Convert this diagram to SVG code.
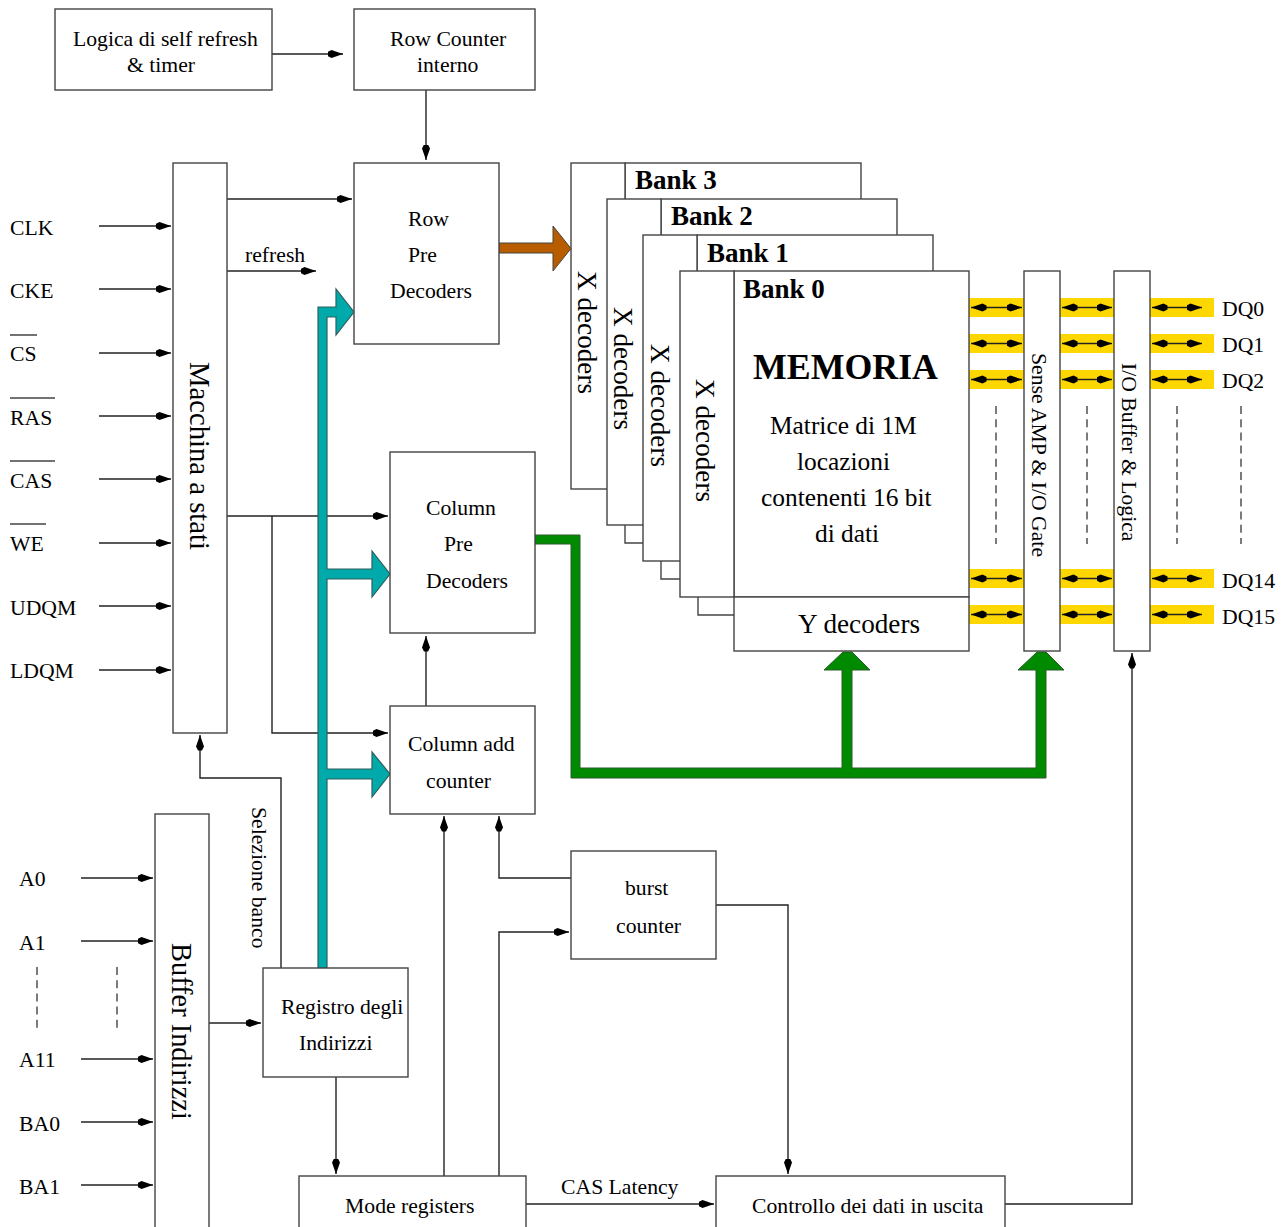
<svg xmlns="http://www.w3.org/2000/svg" width="1287" height="1227" viewBox="0 0 1287 1227">
<style>
text{font-family:"Liberation Serif","Times New Roman",serif;fill:#000;font-size:21.700px}
.b{fill:#fff;stroke:#444;stroke-width:1.4}
.c{fill:none;stroke:#222;stroke-width:1.4;marker-end:url(#a)}
.l{fill:none;stroke:#444;stroke-width:1.4}
.d{fill:none;stroke:#222;stroke-width:1.4;marker-start:url(#a);marker-end:url(#a)}
.k{fill:none;stroke:#444;stroke-width:1.4;stroke-dasharray:8 5.2}
.y{fill:#ffd700}
.h{font-weight:bold;font-size:27px}
.r{font-size:25.400px}
.x{font-size:27.200px}
</style>
<defs>
<marker id="a" markerUnits="userSpaceOnUse" markerWidth="17" markerHeight="10" refX="15.500" refY="4.5" orient="auto-start-reverse"><path d="M15.500,4.500 L4,0.500 L0,2.500 V6.500 L4,8.500 Z" fill="#000"/></marker>
</defs>
<rect width="1287" height="1227" fill="#fff"/>

<g id="yellow-bands">
<rect class="y" x="969" y="298" width="55" height="19"/><rect class="y" x="1060" y="298" width="54" height="19"/><rect class="y" x="1150" y="298" width="64" height="19"/>
<rect class="y" x="969" y="334" width="55" height="19"/><rect class="y" x="1060" y="334" width="54" height="19"/><rect class="y" x="1150" y="334" width="64" height="19"/>
<rect class="y" x="969" y="370" width="55" height="19"/><rect class="y" x="1060" y="370" width="54" height="19"/><rect class="y" x="1150" y="370" width="64" height="19"/>
<rect class="y" x="969" y="569" width="55" height="19"/><rect class="y" x="1060" y="569" width="54" height="19"/><rect class="y" x="1150" y="569" width="64" height="19"/>
<rect class="y" x="969" y="605" width="55" height="19"/><rect class="y" x="1060" y="605" width="54" height="19"/><rect class="y" x="1150" y="605" width="64" height="19"/>
</g>

<g id="bank3">
<rect class="b" x="625" y="163" width="236" height="40"/>
<rect class="b" x="571" y="163" width="54" height="326"/>
<text class="h" x="635" y="189">Bank 3</text>
<text class="x" transform="translate(578 271) rotate(90)">X decoders</text>
</g>
<g id="bank2">
<path class="l" d="M625,525V543H650"/>
<rect class="b" x="661" y="199" width="236" height="40"/>
<rect class="b" x="607" y="199" width="54" height="326"/>
<text class="h" x="671" y="225">Bank 2</text>
<text class="x" transform="translate(614 307) rotate(90)">X decoders</text>
</g>
<g id="bank1">
<path class="l" d="M661,561V579H685"/>
<rect class="b" x="697" y="235" width="236" height="40"/>
<rect class="b" x="643" y="235" width="54" height="326"/>
<text class="h" x="707" y="262">Bank 1</text>
<text class="x" transform="translate(651 344) rotate(90)">X decoders</text>
</g>
<g id="bank0">
<path class="l" d="M698,597V615H734"/>
<rect class="b" x="734" y="271" width="235" height="326"/>
<rect class="b" x="680" y="271" width="54" height="326"/>
<rect class="b" x="734" y="597" width="235" height="54"/>
<text class="h" x="743" y="298">Bank 0</text>
<text x="753" y="379" font-weight="bold" style="font-size:35.800px">MEMORIA</text>
<text class="r" x="770" y="434">Matrice di 1M</text>
<text class="r" x="797" y="470">locazioni</text>
<text class="r" x="761" y="506">contenenti 16 bit</text>
<text class="r" x="815" y="542">di dati</text>
<text x="798" y="633" style="font-size:27.200px">Y decoders</text>
<text class="x" transform="translate(696 379) rotate(90)">X decoders</text>
</g>

<g id="connectors">
<path class="c" d="M272,54H343"/>
<path class="c" d="M426,90V160"/>
<path class="c" d="M227,199H352"/>
<path class="c" d="M227,271H316"/>
<path class="c" d="M227,516H388"/>
<path class="c" d="M272,516V733H388"/>
<path class="c" d="M426,706V636"/>
<path class="c" d="M281,968V778H200V735"/>
<path class="c" d="M209,1023H261"/>
<path class="c" d="M336,1077V1174"/>
<path class="c" d="M444,1176V816"/>
<path class="c" d="M499,1176V932H569"/>
<path class="c" d="M571,878H499V816"/>
<path class="c" d="M716,905H788V1174"/>
<path class="c" d="M526,1204H714"/>
<path class="c" d="M1005,1204H1132V653"/>
<path class="c" d="M99,226H171"/><path class="c" d="M99,289H171"/><path class="c" d="M99,353H171"/><path class="c" d="M99,416H171"/><path class="c" d="M99,479H171"/><path class="c" d="M99,543H171"/><path class="c" d="M99,606H171"/><path class="c" d="M99,670H171"/>
<path class="c" d="M81,878H153"/><path class="c" d="M81,941H153"/><path class="c" d="M81,1059H153"/><path class="c" d="M81,1122H153"/><path class="c" d="M81,1185H153"/>
<path class="d" d="M971,307.500H1022"/><path class="d" d="M1062,307.500H1112"/><path class="d" d="M1152,307.500H1202"/>
<path class="d" d="M971,343.500H1022"/><path class="d" d="M1062,343.500H1112"/><path class="d" d="M1152,343.500H1202"/>
<path class="d" d="M971,379.500H1022"/><path class="d" d="M1062,379.500H1112"/><path class="d" d="M1152,379.500H1202"/>
<path class="d" d="M971,578.500H1022"/><path class="d" d="M1062,578.500H1112"/><path class="d" d="M1152,578.500H1202"/>
<path class="d" d="M971,614.500H1022"/><path class="d" d="M1062,614.500H1112"/><path class="d" d="M1152,614.500H1202"/>
<path class="k" d="M996,406V544"/><path class="k" d="M1087,406V544"/><path class="k" d="M1177,406V544"/><path class="k" d="M1241,406V544"/>
<path class="k" d="M37,967V1033"/><path class="k" d="M117,967V1033"/>
<path fill="#b85c00" stroke="#444" stroke-width="1" d="M499,243H553V226L571,248.500L553,271V253H499Z"/>
<path fill="#008a00" stroke="#2a5a2a" stroke-width="1" d="M535,535H580V768H842V670H824L843,652H852L870,670H852V768H1036V670H1018L1037,652H1046L1064,670H1046V778H571V544H535Z"/>
<path fill="#00aaaa" stroke="#2f5f5f" stroke-width="1.200" d="M318,968V307H336V289L354,312L336,335V317H327V569H372V551L390,574L372,597V579H327V769H372V752L390,774L372,797V779H327V968Z"/>
</g>

<g id="logica"><rect class="b" x="55" y="9" width="217" height="81"/><text x="73" y="46">Logica di self refresh</text><text x="127" y="72">&amp; timer</text></g>
<g id="row-counter"><rect class="b" x="354" y="9" width="181" height="81"/><text x="390" y="46">Row Counter</text><text x="417" y="72">interno</text></g>
<g id="macchina"><rect class="b" x="173" y="163" width="54" height="570"/><text transform="translate(190 362) rotate(90)" style="font-size:28.700px">Macchina a stati</text></g>
<g id="row-pre"><rect class="b" x="354" y="163" width="145" height="181"/><text x="408" y="226">Row</text><text x="408" y="262">Pre</text><text x="390" y="298">Decoders</text></g>
<g id="column-pre"><rect class="b" x="390" y="452" width="145" height="181"/><text x="426" y="515">Column</text><text x="444" y="551">Pre</text><text x="426" y="588">Decoders</text></g>
<g id="column-add"><rect class="b" x="390" y="706" width="145" height="108"/><text x="408" y="751">Column add</text><text x="426" y="788">counter</text></g>
<g id="burst"><rect class="b" x="571" y="851" width="145" height="108"/><text x="625" y="895">burst</text><text x="616" y="933">counter</text></g>
<g id="buffer"><rect class="b" x="155" y="814" width="54" height="430"/><text transform="translate(172 943) rotate(90)" style="font-size:28.400px">Buffer Indirizzi</text></g>
<g id="registro"><rect class="b" x="263" y="968" width="145" height="109"/><text x="281" y="1014">Registro degli</text><text x="299" y="1050">Indirizzi</text></g>
<g id="mode"><rect class="b" x="299" y="1176" width="227" height="70"/><text x="345" y="1213">Mode registers</text></g>
<g id="controllo"><rect class="b" x="716" y="1176" width="289" height="70"/><text x="752" y="1213">Controllo dei dati in uscita</text></g>
<g id="sense"><rect class="b" x="1024" y="271" width="36" height="380"/><text transform="translate(1032 353) rotate(90)">Sense AMP &amp; I/O Gate</text></g>
<g id="io"><rect class="b" x="1114" y="271" width="36" height="380"/><text transform="translate(1122 363) rotate(90)">I/O Buffer &amp; Logica</text></g>

<g id="labels">
<text x="245" y="262">refresh</text>
<text x="561" y="1194">CAS Latency</text>
<text transform="translate(252 807) rotate(90)">Selezione banco</text>
<text x="10" y="235">CLK</text><text x="10" y="298">CKE</text><text x="10" y="361">CS</text><text x="10" y="425">RAS</text><text x="10" y="488">CAS</text><text x="10" y="551">WE</text><text x="10" y="615">UDQM</text><text x="10" y="678">LDQM</text>
<path class="l" d="M10,335H37M10,398H55M10,461H55M10,524H46"/>
<text x="19" y="886">A0</text><text x="19" y="950">A1</text><text x="19" y="1067">A11</text><text x="19" y="1131">BA0</text><text x="19" y="1194">BA1</text>
<text x="1222" y="316">DQ0</text><text x="1222" y="352">DQ1</text><text x="1222" y="388">DQ2</text><text x="1222" y="588">DQ14</text><text x="1222" y="624">DQ15</text>
</g>
</svg>
